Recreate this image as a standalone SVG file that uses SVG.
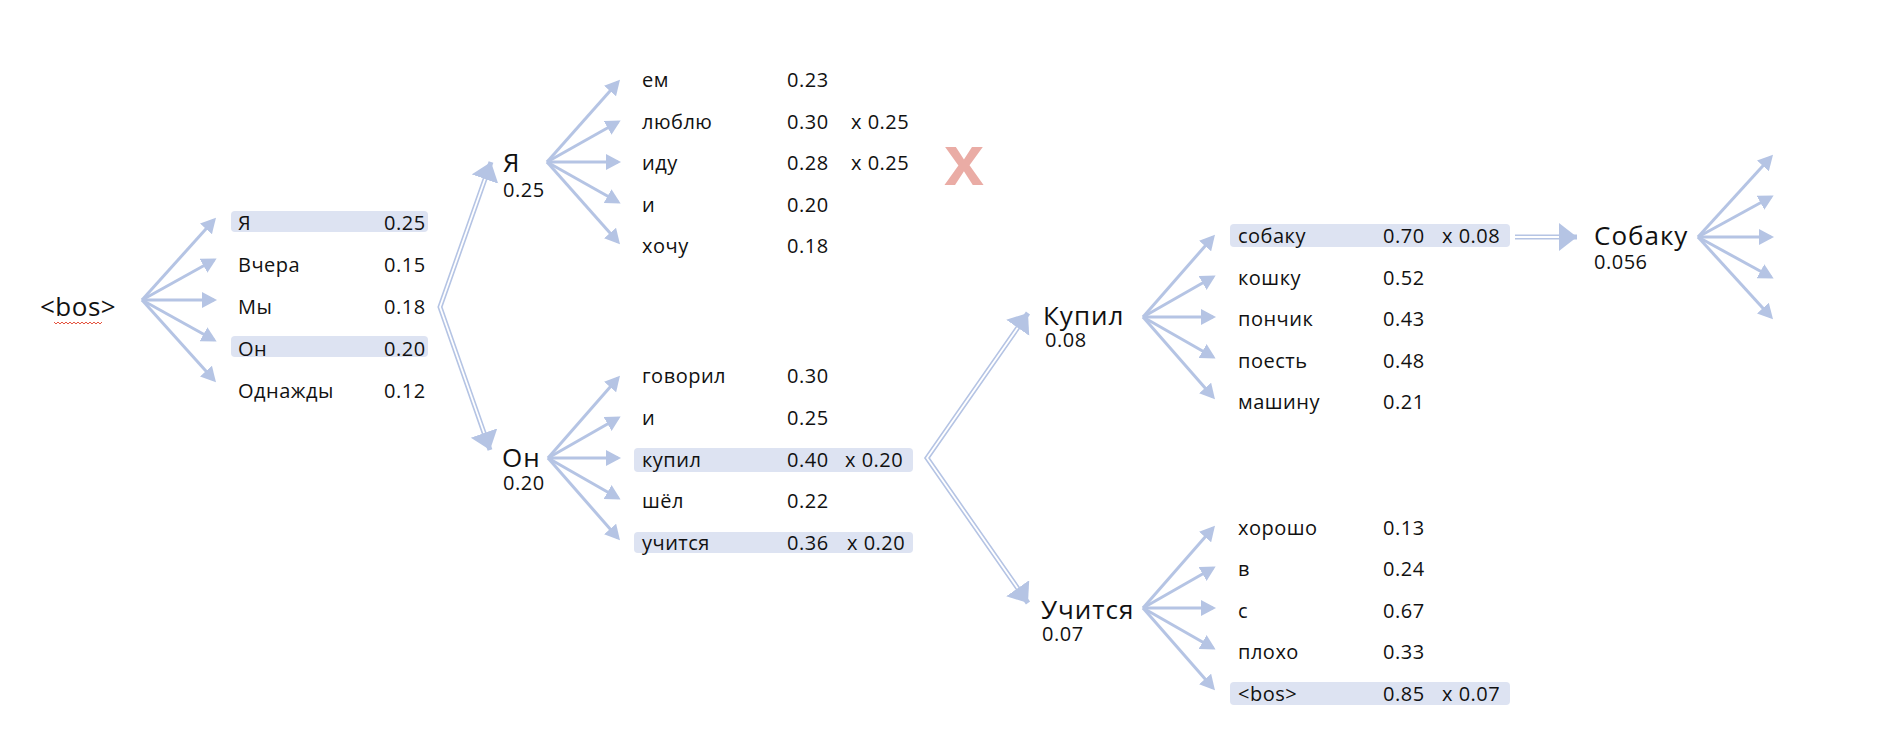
<svg xmlns="http://www.w3.org/2000/svg" width="1900" height="748" viewBox="0 0 1900 748">
<style>
.t{font-family:"Open Sans","Liberation Sans",sans-serif;font-size:20px;fill:#111;letter-spacing:0.5px}
.n{font-family:"Open Sans","Liberation Sans",sans-serif;font-size:26px;fill:#111;letter-spacing:1px}
.hl{fill:#dde3f2}
.ar{stroke:#b5c4e4;stroke-width:3;fill:none;marker-end:url(#ah)}
.dbl{stroke:#b5c4e4;stroke-width:5;fill:none;stroke-linejoin:miter;stroke-miterlimit:10}
.dbi{stroke:#fff;stroke-width:1.8;fill:none;stroke-linejoin:miter;stroke-miterlimit:10}
.xm{font-family:"Liberation Sans",Arial,sans-serif;font-size:72px;font-weight:bold;fill:#eaaca5}
</style>
<defs>
<marker id="ah" markerUnits="userSpaceOnUse" markerWidth="16" markerHeight="16" refX="12" refY="8" orient="auto">
<path d="M0,0 L15,8 L0,16 Z" fill="#b5c4e4"/>
</marker>
<marker id="bh" markerUnits="userSpaceOnUse" markerWidth="20" markerHeight="30" refX="18" refY="14" orient="auto-start-reverse">
<path d="M0,0 L18,14 L0,28 Z" fill="#b5c4e4"/>
</marker>
</defs>
<rect width="1900" height="748" fill="#fff"/>

<g id="connectors">
<!-- fan from <bos> -->
<line class="ar" x1="142" y1="300" x2="214" y2="220"/>
<line class="ar" x1="142" y1="300" x2="214" y2="260"/>
<line class="ar" x1="142" y1="300" x2="214" y2="300"/>
<line class="ar" x1="142" y1="300" x2="214" y2="340"/>
<line class="ar" x1="142" y1="300" x2="214" y2="380"/>
<!-- fan from Я -->
<line class="ar" x1="547" y1="162" x2="618" y2="82"/>
<line class="ar" x1="547" y1="162" x2="618" y2="122"/>
<line class="ar" x1="547" y1="162" x2="618" y2="162"/>
<line class="ar" x1="547" y1="162" x2="618" y2="202"/>
<line class="ar" x1="547" y1="162" x2="618" y2="242"/>
<!-- fan from Он -->
<line class="ar" x1="548" y1="458" x2="618" y2="378"/>
<line class="ar" x1="548" y1="458" x2="618" y2="418"/>
<line class="ar" x1="548" y1="458" x2="618" y2="458"/>
<line class="ar" x1="548" y1="458" x2="618" y2="498"/>
<line class="ar" x1="548" y1="458" x2="618" y2="538"/>
<!-- fan from Купил -->
<line class="ar" x1="1143" y1="317" x2="1213" y2="237"/>
<line class="ar" x1="1143" y1="317" x2="1213" y2="277"/>
<line class="ar" x1="1143" y1="317" x2="1213" y2="317"/>
<line class="ar" x1="1143" y1="317" x2="1213" y2="357"/>
<line class="ar" x1="1143" y1="317" x2="1213" y2="397"/>
<!-- fan from Учится -->
<line class="ar" x1="1143" y1="608" x2="1213" y2="528"/>
<line class="ar" x1="1143" y1="608" x2="1213" y2="568"/>
<line class="ar" x1="1143" y1="608" x2="1213" y2="608"/>
<line class="ar" x1="1143" y1="608" x2="1213" y2="648"/>
<line class="ar" x1="1143" y1="608" x2="1213" y2="688"/>
<!-- fan from Собаку -->
<line class="ar" x1="1698" y1="237" x2="1771" y2="157"/>
<line class="ar" x1="1698" y1="237" x2="1771" y2="197"/>
<line class="ar" x1="1698" y1="237" x2="1771" y2="237"/>
<line class="ar" x1="1698" y1="237" x2="1771" y2="277"/>
<line class="ar" x1="1698" y1="237" x2="1771" y2="317"/>
<!-- double connectors -->
<path class="dbl" d="M491,162 L440,307 L490,450" marker-start="url(#bh)" marker-end="url(#bh)"/>
<path class="dbi" d="M485,179 L440,307 L484.1,433"/>
<path class="dbl" d="M1028,313 L927,458 L1028,603" marker-start="url(#bh)" marker-end="url(#bh)"/>
<path class="dbi" d="M1017.7,327.8 L927,458 L1017.7,588.2"/>
<path class="dbl" d="M1515,237 L1577,237" marker-end="url(#bh)"/>
<path class="dbi" d="M1515,237 L1559,237"/>
</g>

<g id="n-bos">
<text class="n" x="40" y="316" style="letter-spacing:0.5px">&lt;bos&gt;</text>
<path d="M54,322 l2,2 l2,-2 l2,2 l2,-2 l2,2 l2,-2 l2,2 l2,-2 l2,2 l2,-2 l2,2 l2,-2 l2,2 l2,-2 l2,2 l2,-2 l2,2 l2,-2 l2,2 l2,-2 l2,2 l2,-2 l2,2 l2,-2" fill="none" stroke="#e5533f" stroke-width="1"/>
</g>

<g id="list-bos">
<rect class="hl" x="231" y="211" width="197" height="21" rx="4"/>
<rect class="hl" x="231" y="336" width="197" height="21" rx="4"/>
<text class="t" x="238" y="230">Я</text><text class="t" x="384" y="230">0.25</text>
<text class="t" x="238" y="272">Вчера</text><text class="t" x="384" y="272">0.15</text>
<text class="t" x="238" y="314">Мы</text><text class="t" x="384" y="314">0.18</text>
<text class="t" x="238" y="356">Он</text><text class="t" x="384" y="356">0.20</text>
<text class="t" x="238" y="398">Однажды</text><text class="t" x="384" y="398">0.12</text>
</g>

<g id="n-ya">
<text class="n" x="503" y="172">Я</text>
<text class="t" x="503" y="197">0.25</text>
</g>

<g id="list-ya">
<text class="t" x="642" y="87">ем</text><text class="t" x="787" y="87">0.23</text>
<text class="t" x="642" y="128.5">люблю</text><text class="t" x="787" y="128.5">0.30</text><text class="t" x="851" y="128.5">x 0.25</text>
<text class="t" x="642" y="170">иду</text><text class="t" x="787" y="170">0.28</text><text class="t" x="851" y="170">x 0.25</text>
<text class="t" x="642" y="211.5">и</text><text class="t" x="787" y="211.5">0.20</text>
<text class="t" x="642" y="253">хочу</text><text class="t" x="787" y="253">0.18</text>
<text class="xm" x="944" y="185">x</text>
</g>

<g id="n-on">
<text class="n" x="502" y="467">Он</text>
<text class="t" x="503" y="490">0.20</text>
</g>

<g id="list-on">
<rect class="hl" x="634" y="448" width="279" height="24" rx="4"/>
<rect class="hl" x="634" y="532" width="279" height="21" rx="4"/>
<text class="t" x="642" y="383">говорил</text><text class="t" x="787" y="383">0.30</text>
<text class="t" x="642" y="425">и</text><text class="t" x="787" y="425">0.25</text>
<text class="t" x="642" y="467">купил</text><text class="t" x="787" y="467">0.40</text><text class="t" x="845" y="467">x 0.20</text>
<text class="t" x="642" y="508">шёл</text><text class="t" x="787" y="508">0.22</text>
<text class="t" x="642" y="550">учится</text><text class="t" x="787" y="550">0.36</text><text class="t" x="847" y="550">x 0.20</text>
</g>

<g id="n-kupil">
<text class="n" x="1043" y="325">Купил</text>
<text class="t" x="1045" y="347">0.08</text>
</g>

<g id="list-kupil">
<rect class="hl" x="1230" y="224" width="280" height="23" rx="4"/>
<text class="t" x="1238" y="243">собаку</text><text class="t" x="1383" y="243">0.70</text><text class="t" x="1442" y="243">x 0.08</text>
<text class="t" x="1238" y="285">кошку</text><text class="t" x="1383" y="285">0.52</text>
<text class="t" x="1238" y="326">пончик</text><text class="t" x="1383" y="326">0.43</text>
<text class="t" x="1238" y="368">поесть</text><text class="t" x="1383" y="368">0.48</text>
<text class="t" x="1238" y="409">машину</text><text class="t" x="1383" y="409">0.21</text>
</g>

<g id="n-uchitsya">
<text class="n" x="1041" y="619">Учится</text>
<text class="t" x="1042" y="641">0.07</text>
</g>

<g id="list-uchitsya">
<rect class="hl" x="1230" y="682" width="280" height="23" rx="4"/>
<text class="t" x="1238" y="535">хорошо</text><text class="t" x="1383" y="535">0.13</text>
<text class="t" x="1238" y="576">в</text><text class="t" x="1383" y="576">0.24</text>
<text class="t" x="1238" y="618">с</text><text class="t" x="1383" y="618">0.67</text>
<text class="t" x="1238" y="659">плохо</text><text class="t" x="1383" y="659">0.33</text>
<text class="t" x="1238" y="701">&lt;bos&gt;</text><text class="t" x="1383" y="701">0.85</text><text class="t" x="1442" y="701">x 0.07</text>
</g>

<g id="n-sobaku">
<text class="n" x="1594" y="245">Собаку</text>
<text class="t" x="1594" y="269">0.056</text>
</g>
</svg>
